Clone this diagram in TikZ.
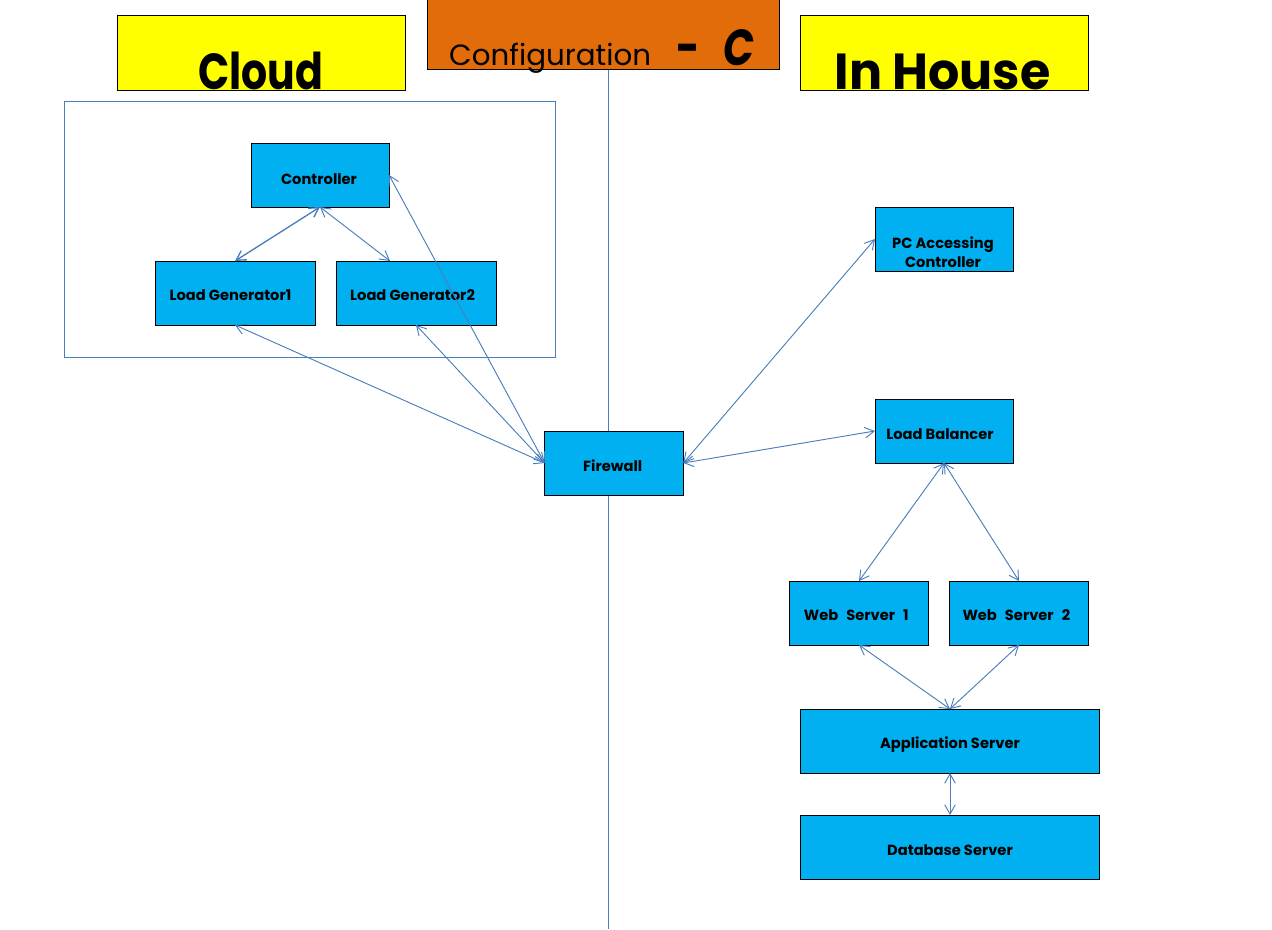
\documentclass[tikz,border=0pt]{standalone}
\usepackage{fontspec}
\setmainfont{Poppins}
\usetikzlibrary{arrows.meta}
\definecolor{boxblue}{HTML}{00B0F0}
\definecolor{lineblue}{HTML}{4A7EBB}
\definecolor{titleorange}{HTML}{E36C0A}
\definecolor{titleyellow}{HTML}{FFFF00}
\newcommand{\boxtext}[3]{\makebox[0pt]{\kern#1\kern#1\raisebox{#2}[0pt][0pt]{#3}}}

\begin{document}
\begin{tikzpicture}
[
x=.75pt, y=-.75pt, >={Straight Barb[length=7pt,width=8pt]},
block/.style    = {draw, fill=boxblue, rectangle, outer sep=0pt, inner sep=0pt, line width=.75pt, minimum height = 48pt, minimum width = 104pt, font=\fontsize{11}{13}\selectfont\bfseries},
narrow/.style   = {block, minimum width = 103.5pt},
title/.style    = {block, fill=titleyellow, minimum height = 56pt, minimum width = 216pt, font=\fontsize{38}{40}\selectfont\bfseries},
link/.style     = {<->, lineblue, line width=.7pt},
]
\useasboundingbox (0,0) rectangle (1272,929);

\coordinate (top) at (608,69);
\coordinate (bottom) at (608,929);
\draw[lineblue, line width=.75pt] (top) -- (bottom);

\node at (309.75,229)[draw=lineblue, line width=.75pt, outer sep=0pt, minimum width=368.25pt, minimum height=192pt] (cloudarea) {};

\node at (261,53)[title] (cloud) {\boxtext{0pt}{-27pt}{\scalebox{.81}[1]{Cloud}}};
\node at (944,53)[title] (inhouse) {\boxtext{-1pt}{-27.5pt}{\scalebox{.97}[1]{In House}}};
\node at (603,34)[title, fill=titleorange, minimum width=264pt, minimum height=53pt, font=\fontsize{22}{26}\selectfont] (config) {\boxtext{-.75pt}{-23.5pt}{Configuration\kern 19pt{\fontsize{38}{40}\selectfont\bfseries\scalebox{.8}[1]{-}\kern 18pt\itshape\scalebox{.8}[1]{C}}}};

\node at (320,175)[narrow] (controller) {\boxtext{-.75pt}{-6.75pt}{Controller}};
\node at (235,293)[block, minimum width=120pt] (loadgena) {\boxtext{-3.4pt}{-5.25pt}{Load Generator1}};
\node at (416,293)[block, minimum width=120pt] (loadgenb) {\boxtext{-2.6pt}{-5.25pt}{Load Generator2}};
\coordinate (loadgenbtop) at (390,261);

\node at (614,463)[block] (firewall) {\boxtext{-1pt}{-6pt}{Firewall}};
\node at (944,239)[narrow] (pc) {\boxtext{-.75pt}{-6.75pt}{PC Accessing}\boxtext{-.75pt}{-21pt}{Controller}};
\node at (944,431)[narrow] (balancer) {\boxtext{-3pt}{-6pt}{Load Balancer}};
\node at (859,613)[block] (weba) {\boxtext{-2pt}{-5.25pt}{Web\kern 6pt Server\kern 6pt 1}};
\node at (1019,613)[block] (webb) {\boxtext{-2pt}{-5.25pt}{Web\kern 6pt Server\kern 6pt 2}};
\node at (950,741)[block, minimum width=224pt] (app) {\boxtext{0pt}{-5.25pt}{Application Server}};
\node at (950,847)[block, minimum width=224pt] (database) {\boxtext{0pt}{-6pt}{Database Server}};

\draw[link, line width=1pt] (controller.south) -- (loadgena.north);
\draw[link] (controller.south) -- (loadgenbtop);
\draw[link] (firewall.west) -- (controller.east);
\draw[link] (firewall.west) -- (loadgena.south);
\draw[link] (firewall.west) -- (loadgenb.south);
\draw[link] (firewall.east) -- (pc.west);
\draw[link] (firewall.east) -- (balancer.west);
\draw[link] (balancer.south) -- (weba.north);
\draw[link] (balancer.south) -- (webb.north);
\draw[link] (weba.south) -- (app.north);
\draw[link] (webb.south) -- (app.north);
\draw[link] (app.south) -- (database.north);
\end{tikzpicture}
\end{document}
